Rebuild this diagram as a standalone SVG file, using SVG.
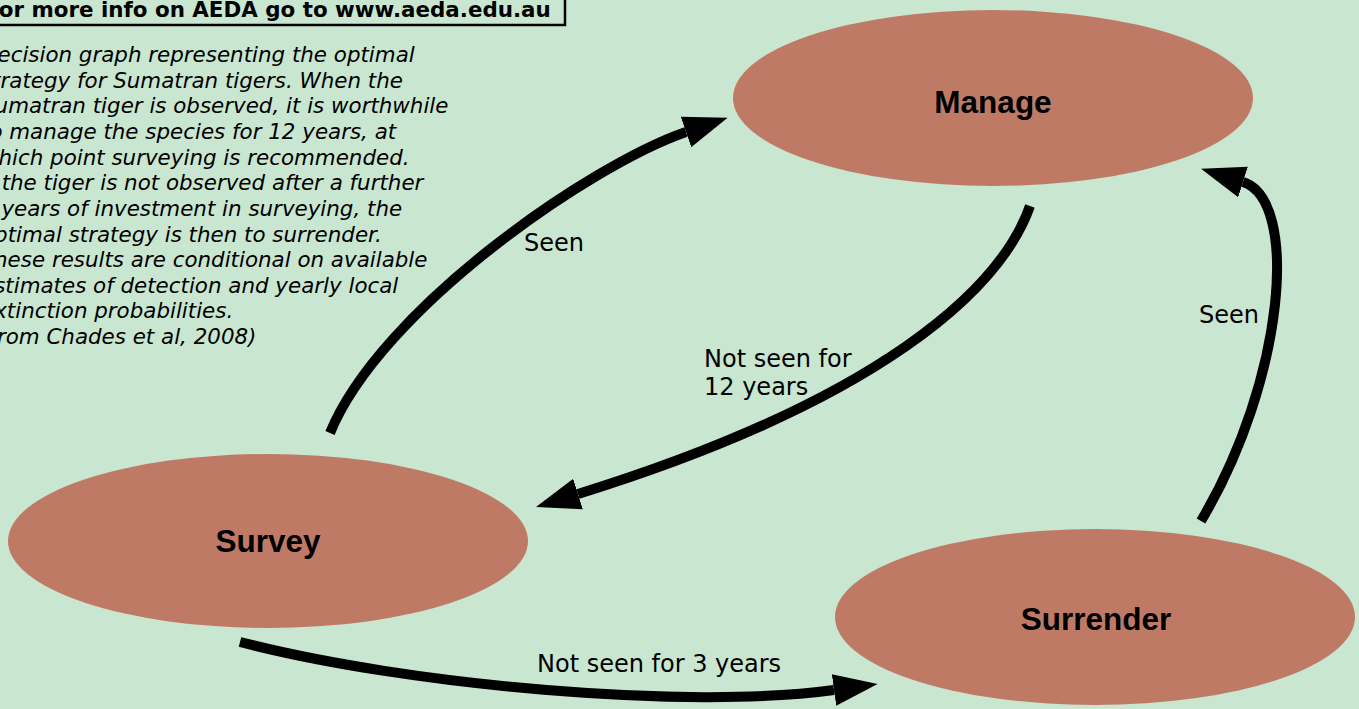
<svg xmlns="http://www.w3.org/2000/svg" width="1359" height="709" viewBox="0 0 1359 709">
<defs>
<style>
.node{fill:#bf7a66;}
.nlabel{font-family:"Liberation Sans",Arial,sans-serif;font-weight:bold;font-size:31.5px;fill:#000;text-anchor:middle;}
.elabel{font-family:"DejaVu Sans",Verdana,sans-serif;font-size:24px;fill:#000;}
.desc{font-family:"DejaVu Sans",Verdana,sans-serif;font-style:italic;font-size:21.4px;fill:#000;}
.edge{fill:none;stroke:#000;stroke-width:10;}
</style>
<marker id="ah" markerUnits="userSpaceOnUse" markerWidth="50" markerHeight="40" viewBox="0 -20 50 40" refX="0" refY="0" orient="auto">
<path d="M0,-16 L44,0 L0,16 z" fill="#000"/>
</marker>
</defs>
<rect x="0" y="0" width="1359" height="709" fill="#c9e6d0"/>
<g id="info">
<rect x="-10" y="-10" width="575" height="35" fill="none" stroke="#000" stroke-width="2.5"/>
<text x="-15" y="17" font-family="DejaVu Sans,Verdana,sans-serif" font-weight="bold" font-size="21.4">For more info on AEDA go to www.aeda.edu.au</text>
</g>
<g id="description" class="desc">
<text x="-19" y="62">Decision graph representing the optimal</text>
<text x="-19" y="88">strategy for Sumatran tigers. When the</text>
<text x="-19" y="113">Sumatran tiger is observed, it is worthwhile</text>
<text x="-19" y="139">to manage the species for 12 years, at</text>
<text x="-19" y="165">which point surveying is recommended.</text>
<text x="-19" y="190">If the tiger is not observed after a further</text>
<text x="-19" y="216">3 years of investment in surveying, the</text>
<text x="-19" y="242">optimal strategy is then to surrender.</text>
<text x="-19" y="267">These results are conditional on available</text>
<text x="-19" y="293">estimates of detection and yearly local</text>
<text x="-19" y="318">extinction probabilities.</text>
<text x="-19" y="344">(from Chades et al, 2008)</text>
</g>
<g id="connectors">
<path class="edge" marker-end="url(#ah)" d="M330,433 C380,310 590,165 686,132"/>
<path class="edge" marker-end="url(#ah)" d="M1030,206 C1000,290 880,400 578,494"/>
<path class="edge" marker-end="url(#ah)" d="M240,642 C410,686 690,710 834,690"/>
<path class="edge" marker-end="url(#ah)" d="M1201,521 C1285,380 1300,200 1243,182"/>
<text class="elabel" x="524" y="251">Seen</text>
<text class="elabel" x="704" y="367">Not seen for</text>
<text class="elabel" x="704" y="395">12 years</text>
<text class="elabel" x="1199" y="323">Seen</text>
<text class="elabel" x="537" y="672">Not seen for 3 years</text>
</g>
<g id="manage">
<ellipse class="node" cx="993" cy="98" rx="260" ry="88"/>
<text class="nlabel" x="993" y="113">Manage</text>
</g>
<g id="survey">
<ellipse class="node" cx="268" cy="541" rx="260" ry="87"/>
<text class="nlabel" x="268" y="552">Survey</text>
</g>
<g id="surrender">
<ellipse class="node" cx="1095" cy="617" rx="260" ry="88"/>
<text class="nlabel" x="1096" y="630">Surrender</text>
</g>
</svg>
